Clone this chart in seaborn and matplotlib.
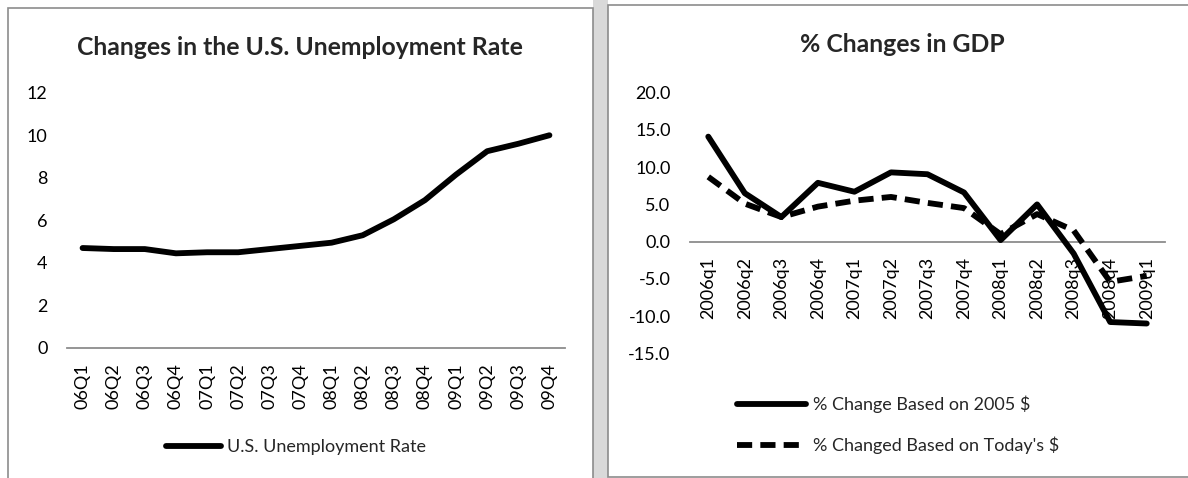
import matplotlib
matplotlib.use("Agg")
import matplotlib.pyplot as plt
import matplotlib.patches as mpatches
import seaborn as sns
import numpy as np
import pandas as pd

# left chart data
quarters = ["06Q1", "06Q2", "06Q3", "06Q4", "07Q1", "07Q2", "07Q3", "07Q4",
            "08Q1", "08Q2", "08Q3", "08Q4", "09Q1", "09Q2", "09Q3", "09Q4"]
unemployment = [4.7, 4.65, 4.65, 4.45, 4.5, 4.5, 4.65, 4.8,
                4.95, 5.3, 6.05, 6.95, 8.15, 9.25, 9.6, 10.0]

# right chart data
gdp_quarters = ["2006q1", "2006q2", "2006q3", "2006q4", "2007q1", "2007q2", "2007q3",
                "2007q4", "2008q1", "2008q2", "2008q3", "2008q4", "2009q1"]
gdp_2005 = [14.1, 6.5, 3.3, 7.9, 6.7, 9.3, 9.05, 6.6, 0.2, 5.0, -1.6, -10.8, -11.0]
gdp_today = [8.7, 5.1, 3.3, 4.7, 5.5, 6.0, 5.2, 4.5, 1.0, 3.7, 1.5, -5.4, -4.6]

sns.set_style("white")
plt.rcParams['font.family'] = ['Lato', 'DejaVu Sans']
plt.rcParams['axes.unicode_minus'] = False

fig = plt.figure(figsize=(11.88, 4.78), dpi=100)
W, H = 1188, 478

# gray gap between the two panels
fig.patches.append(mpatches.Rectangle((593 / W, 0), 15 / W, 1, transform=fig.transFigure,
                                      facecolor="#d9d9d9", edgecolor="none", zorder=0))
# panel frames
fig.patches.append(mpatches.Rectangle((7.5 / W, -0.05), 585.5 / W, 1 - 8 / H + 0.05,
                                      transform=fig.transFigure, facecolor="white",
                                      edgecolor="#8c8c8c", lw=1.2, zorder=1))
fig.patches.append(mpatches.Rectangle((608 / W, 1 / H), 600 / W, 1 - 5.5 / H,
                                      transform=fig.transFigure, facecolor="white",
                                      edgecolor="#8c8c8c", lw=1.2, zorder=1))


def px_axes(x0, x1, ytop, ybot):
    return fig.add_axes([x0 / W, 1 - ybot / H, (x1 - x0) / W, (ybot - ytop) / H])


def style_axes(ax, labels):
    ax.set_facecolor("none")
    for s in ["top", "right", "left"]:
        ax.spines[s].set_visible(False)
    # category axis crosses at zero, like Excel
    ax.spines["bottom"].set_position(("data", 0))
    ax.spines["bottom"].set_color("#8c8c8c")
    ax.spines["bottom"].set_linewidth(1.3)
    ax.spines["bottom"].set_zorder(1)
    ax.set_xticks(range(len(labels)))
    ax.set_xticklabels(labels, rotation=90, fontsize=13)
    ax.set_xlim(-0.5, len(labels) - 0.5)
    ax.tick_params(axis="both", length=0, labelsize=13, colors="black")
    ax.tick_params(axis="x", pad=11)
    ax.tick_params(axis="y", pad=14)
    ax.set_xlabel("")
    ax.set_ylabel("")


# left chart
df1 = pd.DataFrame({"idx": range(len(quarters)), "rate": unemployment})
ax1 = px_axes(67, 565, 92.7, 348)
ax1.set_zorder(2)
sns.lineplot(data=df1, x="idx", y="rate", color="black", lw=4.2, ax=ax1,
             label="U.S. Unemployment Rate", solid_capstyle="round")
style_axes(ax1, quarters)
ax1.set_ylim(0, 12)
ax1.set_yticks(range(0, 13, 2))
ax1.set_title("Changes in the U.S. Unemployment Rate", fontsize=17.8, fontweight="bold",
              pad=0, x=(300 - 67) / 498, y=1.0 + 38 / 255)
ax1.legend(loc="center left", bbox_to_anchor=(150 / W, 1 - 447 / H),
           bbox_transform=fig.transFigure, frameon=False, fontsize=13,
           handlelength=3.05, handletextpad=0.3)

# right chart
df2 = pd.DataFrame({
    "idx": list(range(len(gdp_quarters))) * 2,
    "value": gdp_2005 + gdp_today,
    "series": ["% Change Based on 2005 $"] * len(gdp_quarters)
              + ["% Changed Based on Today's $"] * len(gdp_quarters),
})
ax2 = px_axes(690, 1165, 92.7, 353.3)
ax2.set_zorder(2)
sns.lineplot(data=df2, x="idx", y="value", style="series", color="black", lw=4.2,
             dashes={"% Change Based on 2005 $": "",
                     "% Changed Based on Today's $": (2.6, 1.4)}, ax=ax2)
style_axes(ax2, gdp_quarters)
ax2.set_ylim(-15, 20)
ax2.set_yticks(np.arange(-15, 21, 5))
ax2.yaxis.set_major_formatter(matplotlib.ticker.FormatStrFormatter("%.1f"))
ax2.set_title("% Changes in GDP", fontsize=17.8, fontweight="bold",
              pad=0, x=(902 - 690) / 475, y=1.0 + 41 / 260.6)
ax2.legend(loc="center left", bbox_to_anchor=(721 / W, 1 - 425 / H),
           bbox_transform=fig.transFigure, frameon=False, fontsize=13,
           handlelength=3.8, handletextpad=0.4, labelspacing=1.3)

fig.savefig("out.png", dpi=100)
